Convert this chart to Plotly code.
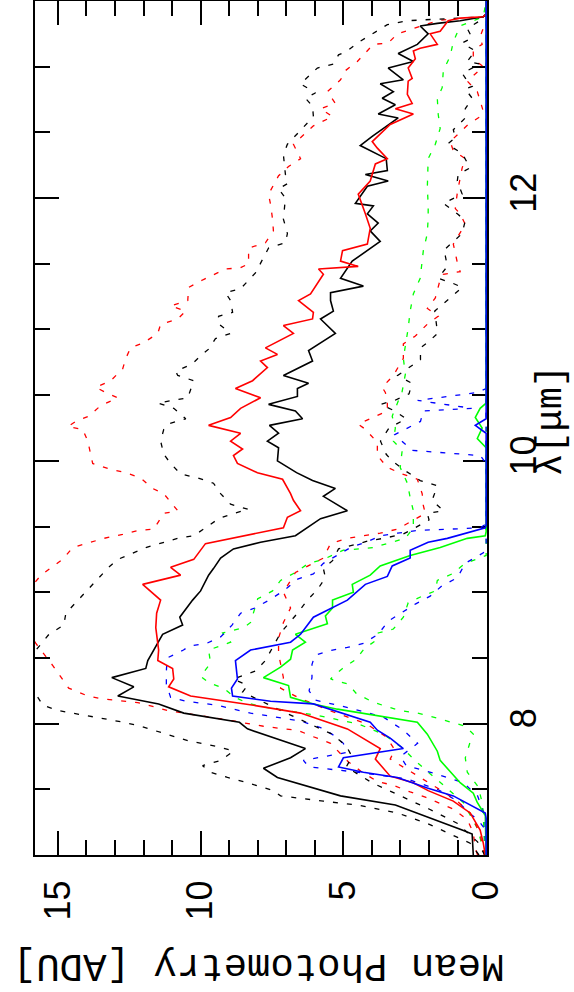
import plotly.graph_objects as go

# ---------------- data (wavelength in micron, mean photometry in ADU) -------------
# black solid
lam_k = [7.00,7.16,7.19,7.38,7.45,7.59,7.66,7.74,7.81,7.96,8.01,8.08,8.15,8.21,8.28,8.35,8.42,8.48,8.68,8.75,
         8.81,8.94,9.01,9.13,9.18,9.26,9.33,9.38,9.43,9.47,9.56,9.62,9.73,9.79,9.85,9.91,10.00,10.10,10.15,10.21,
         10.27,10.32,10.38,10.43,10.49,10.55,10.59,10.65,10.76,10.84,10.97,11.08,11.14,11.22,11.28,11.33,11.39,11.52,11.67,11.75,
         11.81,11.88,11.94,11.96,12.09,12.13,12.18,12.21,12.30,12.40,12.47,12.61,12.64,12.71,12.76,12.81,12.87,12.90,12.99,13.04,
         13.10,13.17,13.25,13.31,13.33,13.35,13.38,13.40,13.50]
val_k = [0.45,0.49,0.84,3.18,5.10,7.31,7.80,6.85,6.33,8.36,8.64,10.59,11.47,12.90,12.34,13.11,11.92,11.85,11.33,10.63,
         10.73,10.28,10.00,9.72,9.55,9.30,8.85,7.90,6.68,6.40,5.80,4.86,5.70,5.28,6.08,6.64,7.31,7.27,7.66,7.27,
         7.59,6.43,6.68,7.62,6.61,6.61,6.22,7.10,6.08,6.22,5.28,5.80,5.35,5.45,5.45,4.30,5.10,4.69,3.71,4.06,
         3.78,4.16,3.95,4.58,4.16,3.43,4.23,3.46,3.50,4.41,3.99,3.08,3.78,3.18,3.64,3.25,3.71,2.90,3.43,2.55,
         3.08,2.41,2.03,2.31,1.71,0.91,0.10,0.0,0.0]

# red solid
lam_r = [7.00,7.09,7.19,7.32,7.41,7.49,7.55,7.60,7.73,7.81,7.96,8.08,8.14,8.21,8.28,8.34,8.42,8.48,8.56,8.73,
         8.84,8.94,9.06,9.13,9.19,9.25,9.37,9.49,9.57,9.62,9.70,9.75,9.86,9.91,9.98,10.04,10.09,10.15,10.21,10.27,
         10.33,10.40,10.48,10.55,10.61,10.71,10.76,10.81,10.86,10.97,11.03,11.08,11.13,11.22,11.27,11.42,11.46,11.48,11.52,11.60,
         11.65,11.77,11.88,12.03,12.13,12.26,12.30,12.38,12.43,12.56,12.64,12.68,12.72,12.79,12.89,12.91,12.99,13.06,13.12,13.14,
         13.17,13.25,13.27,13.35,13.37,13.38,13.40,13.50]
val_r = [0.03,0.10,0.21,0.56,1.15,2.03,2.55,3.36,3.88,3.71,4.86,6.50,8.15,10.35,11.12,10.94,10.98,11.50,11.47,11.57,
         11.54,11.40,12.03,10.70,11.05,10.24,9.83,7.10,6.96,6.50,6.75,6.85,7.13,8.01,8.71,8.85,8.53,8.95,8.60,9.72,
         8.95,8.60,7.90,8.78,8.18,7.66,7.90,7.31,7.73,6.75,7.10,6.08,6.05,6.57,6.15,5.70,5.87,4.48,5.10,5.03,
         4.16,4.06,4.23,4.48,4.06,3.88,3.46,3.81,3.99,3.36,2.55,3.18,2.59,2.76,2.73,2.59,2.73,2.48,2.55,2.31,
         1.71,1.96,1.61,1.33,0.91,0.10,0.0,0.0]

# blue solid
lam_b = [7.00,7.28,7.32,7.45,7.51,7.59,7.63,7.67,7.74,7.81,7.89,7.95,8.01,8.15,8.17,8.21,8.27,8.34,8.48,8.56,
         8.62,8.68,8.81,8.94,9.06,9.12,9.20,9.26,9.32,9.38,9.41,9.49,9.51,10.21,10.27,10.32,13.50]
val_b = [0,0,0.03,1.15,2.06,3.11,4.30,5.17,5.00,2.90,3.36,3.81,4.06,6.05,7.55,8.88,8.92,8.71,8.78,8.25,
         6.85,6.50,6.05,4.86,4.23,3.46,3.29,2.66,2.66,2.03,1.36,0.03,0,0,0.38,0,0]

# green solid
lam_g = [7.00,7.30,7.40,7.47,7.55,7.72,7.79,7.92,8.01,8.06,8.11,8.15,8.20,8.29,8.35,8.43,8.49,8.56,8.62,8.68,
         8.76,8.82,8.88,8.94,9.00,9.06,9.13,9.20,9.28,9.34,9.41,9.43,9.46,10.10,10.17,10.25,10.33,10.40,10.44,13.50]
val_g = [0,0.03,0.31,0.45,0.91,1.61,1.71,2.06,2.41,3.81,5.21,6.05,6.85,6.92,7.80,7.20,6.85,6.78,6.33,6.68,
         5.56,5.63,5.38,5.38,4.65,4.69,4.06,3.71,2.66,1.61,0.66,0.03,0,0,0.31,0.14,0.38,0.21,0,0]

# black dashed, upper envelope
lam_ku = [7.00,7.09,7.16,7.24,7.32,7.38,7.41,7.45,7.49,7.55,7.59,7.63,7.68,7.72,7.79,7.82,7.87,7.95,7.98,8.01,
          8.04,8.08,8.10,8.14,8.25,8.40,8.55,8.68,8.75,8.84,8.94,9.03,9.19,9.25,9.34,9.41,9.43,9.49,9.56,9.60,
          9.63,9.67,9.75,9.83,9.87,9.90,9.98,10.05,10.15,10.24,10.28,10.32,10.40,10.44,10.48,10.61,10.65,10.68,10.74,10.80,
          10.85,10.93,10.97,11.05,11.10,11.13,11.22,11.28,11.31,11.43,11.62,11.66,11.73,11.84,12.00,12.07,12.11,12.18,12.33,12.41,
          12.49,12.62,12.70,12.76,12.80,12.87,12.99,13.02,13.09,13.12,13.18,13.25,13.32,13.35,13.37,13.38,13.40,13.50]
val_ku = [0.25,0.56,1.26,2.06,3.11,4.51,5.70,7.20,7.45,8.36,9.06,9.65,9.93,9.30,8.85,9.30,10.45,11.64,12.10,12.69,
          13.50,14.44,15.00,15.52,15.85,16.0,15.8,15.31,14.79,14.72,14.30,13.92,13.22,12.90,11.92,10.80,10.24,9.83,9.37,8.85,
          8.32,8.95,9.30,9.55,10.10,10.70,11.05,11.29,11.40,11.29,11.15,10.52,10.94,11.50,10.45,10.24,10.80,10.87,10.28,10.00,
          9.72,9.48,8.95,9.41,9.37,8.88,8.95,9.13,8.60,8.08,7.62,7.03,6.96,7.10,7.03,7.27,6.96,7.03,7.10,6.96,
          6.61,6.05,6.08,6.33,5.98,6.50,5.91,5.35,5.17,4.86,4.51,3.99,3.46,2.76,1.26,0.10,0.0,0.0]

# black dashed, lower envelope
lam_kl = [7.00,7.10,7.24,7.35,7.45,7.55,7.67,7.75,7.83,7.92,8.00,8.10,8.24,8.29,8.34,8.40,8.48,8.59,8.69,8.84,
          8.94,9.02,9.11,9.18,9.24,9.33,9.39,9.41,9.44,9.47,9.55,9.60,9.62,9.70,9.81,9.85,9.92,10.00,10.05,10.15,
          10.25,10.32,10.38,10.43,10.46,10.51,10.59,10.65,10.71,10.77,10.86,10.91,10.97,11.14,11.32,11.35,11.39,11.48,11.56,11.60,
          11.73,11.83,11.88,11.96,12.03,12.13,12.18,12.23,12.34,12.41,12.46,12.52,12.61,12.68,12.76,12.83,12.85,12.89,12.95,13.02,
          13.04,13.12,13.18,13.22,13.29,13.38,13.50]
val_kl = [0.05,0.30,1.00,2.00,3.00,4.00,4.90,4.70,4.90,5.40,6.20,7.20,8.53,8.36,8.85,8.08,7.73,7.45,7.20,6.61,
          6.26,5.91,5.63,5.70,5.38,5.17,4.13,3.60,2.94,2.66,2.00,2.06,1.50,1.89,1.71,2.31,2.80,3.30,3.50,3.70,
          3.40,2.80,3.20,3.70,3.20,2.70,2.60,3.10,2.70,2.30,2.30,2.00,1.70,1.80,0.84,1.15,1.68,1.36,1.43,1.50,
          0.84,0.73,1.01,1.50,0.84,1.01,0.98,0.56,0.84,1.36,1.08,1.15,0.73,0.73,0.49,0.73,0.49,0.66,0.84,0.21,
          0.66,0.38,0.84,0.49,0.66,0.0,0.0]

# red dashed, upper envelope
lam_ru = [7.00,7.05,7.17,7.27,7.35,7.40,7.44,7.48,7.53,7.56,7.63,7.71,7.77,7.85,7.90,7.95,7.96,7.98,8.02,8.06,
          8.10,8.16,8.19,8.21,8.27,8.44,8.61,8.75,8.90,9.05,9.13,9.25,9.34,9.41,9.44,9.47,9.48,9.60,9.62,9.75,
          9.79,9.87,9.91,9.94,9.98,10.05,10.15,10.24,10.26,10.30,10.34,10.42,10.48,10.52,10.56,10.61,10.70,10.78,10.86,10.90,
          10.97,11.04,11.08,11.14,11.18,11.22,11.32,11.38,11.46,11.47,11.50,11.62,11.66,11.75,11.84,11.95,12.03,12.17,12.24,12.30,
          12.41,12.55,12.62,12.68,12.72,12.81,12.90,12.97,13.04,13.17,13.18,13.25,13.29,13.35,13.36,13.38,13.40,13.50]
val_ru = [0.30,0.38,0.45,0.66,1.15,1.68,2.13,2.66,3.25,3.81,4.34,4.83,5.10,5.45,6.05,6.61,7.10,7.80,8.85,10.00,
          11.15,12.20,13.50,13.95,14.62,15.17,15.77,16.1,16.2,15.9,15.59,14.83,14.48,13.39,12.73,12.20,11.64,11.29,10.80,11.29,
          11.68,12.10,12.62,13.22,13.78,13.85,13.95,14.13,14.65,14.37,13.92,13.50,12.90,13.32,13.67,13.15,12.73,12.62,12.45,11.99,
          11.50,11.40,10.80,10.52,11.05,10.45,10.42,9.90,9.13,8.60,8.32,8.32,7.73,7.45,7.48,7.55,7.62,7.27,6.92,6.50,
          6.75,6.05,5.38,5.80,5.28,5.56,5.10,4.93,4.51,3.95,3.43,3.11,2.55,1.71,1.36,0.10,0.0,0.0]

# red dashed, lower envelope
lam_rl = [7.00,7.16,7.32,7.41,7.51,7.62,7.73,7.80,7.90,8.00,8.10,8.20,8.27,8.35,8.53,8.65,8.77,8.88,9.00,9.15,
          9.20,9.26,9.37,9.41,9.45,9.48,9.60,9.66,9.75,9.86,9.90,9.95,10.04,10.14,10.24,10.28,10.38,10.46,10.52,10.56,
          10.65,10.78,10.89,10.95,11.04,11.10,11.16,11.24,11.38,11.42,11.44,11.51,11.65,11.70,11.80,11.88,11.92,12.04,12.15,12.23,
          12.30,12.36,12.43,12.56,12.62,12.66,12.74,12.81,12.89,13.00,13.06,13.13,13.17,13.23,13.35,13.50]
val_rl = [0.07,0.21,0.56,1.01,1.71,2.55,3.36,3.20,3.50,4.20,5.50,6.60,7.20,7.10,7.27,7.27,7.10,6.85,7.10,6.68,
          6.22,5.70,5.45,4.86,3.71,3.11,2.13,2.20,2.24,2.41,2.94,3.46,3.81,3.81,4.23,4.48,3.46,3.46,3.53,3.64,
          3.25,2.90,2.90,2.48,2.06,1.68,2.06,1.78,1.61,1.50,0.91,1.01,1.15,1.01,0.73,0.91,1.08,1.01,0.91,0.84,
          0.73,1.15,1.26,0.63,0.21,0.10,0.21,0.31,0.66,0.10,0.45,0.45,0.14,0.21,0.0,0.0]

# blue dashed, upper envelope
lam_bu = [7.00,7.20,7.27,7.32,7.41,7.50,7.58,7.63,7.67,7.72,7.78,7.85,7.92,7.97,8.02,8.04,8.06,8.08,8.11,8.14,
          8.17,8.20,8.30,8.40,8.50,8.56,8.59,8.61,8.66,8.75,8.84,8.88,8.94,9.01,9.10,9.14,9.22,9.34,9.39,9.43,
          9.45,9.47,9.49,9.52,9.98,10.04,10.08,10.20,10.30,10.38,10.40,10.46,10.52,10.55,13.50]
val_bu = [0,0.05,0.30,0.60,1.00,1.70,2.80,4.50,6.20,6.40,4.90,5.00,5.40,5.80,6.50,7.10,7.66,8.25,8.85,9.40,
          10.50,11.05,11.20,11.20,11.17,10.60,10.40,9.80,9.30,8.90,8.60,8.10,7.60,7.10,6.60,6.05,5.70,4.75,4.10,3.70,
          3.10,2.40,0.20,0,0,0.20,2.60,3.20,2.30,2.20,0.50,2.40,0.30,0,0]

# blue dashed, lower envelope
lam_bl = [7.00,7.30,7.45,7.55,7.62,7.68,7.75,7.85,7.95,8.05,8.12,8.18,8.25,8.35,8.45,8.52,8.56,8.58,8.61,8.68,
          8.78,8.84,8.91,8.97,9.05,9.11,9.22,9.30,9.35,13.50]
val_bl = [0,0.05,0.30,0.80,1.80,2.80,3.00,2.40,2.90,3.60,4.80,6.00,6.20,6.10,6.10,6.00,5.38,4.86,4.30,3.78,
          3.43,3.01,2.48,1.96,1.54,1.01,0.73,0.10,0,0]

# green dashed, upper envelope
lam_gu = [7.00,7.20,7.40,7.59,7.72,7.81,7.92,8.00,8.02,8.05,8.07,8.09,8.11,8.13,8.16,8.20,8.27,8.31,8.36,8.46,
          8.56,8.62,8.69,8.73,8.77,8.95,9.01,9.09,9.15,9.22,9.25,9.32,9.34,9.41,9.49,9.62,9.72,9.83,9.95,10.08,
          10.15,10.25,10.34,10.53,10.66,10.78,11.01,11.14,11.27,11.39,11.60,11.73,11.85,11.95,12.08,12.21,12.30,12.41,12.53,12.64,
          12.76,12.84,12.97,13.08,13.19,13.31,13.38,13.50]
val_gu = [0.05,0.30,0.80,1.80,2.50,2.90,3.60,4.50,5.00,5.60,6.10,6.70,7.30,7.90,8.40,8.80,9.20,9.70,10.00,9.65,
          9.72,8.95,9.23,8.50,8.25,8.00,7.48,7.20,6.68,6.22,5.70,5.00,3.95,2.83,2.55,2.55,2.66,2.76,3.01,2.94,
          3.25,3.18,3.29,2.94,2.83,2.90,2.73,2.66,2.55,2.31,2.20,2.06,2.03,2.03,2.06,2.03,2.03,1.78,1.61,1.68,
          1.71,1.54,1.50,1.26,1.15,0.91,0.10,0.0]

# green dashed, lower envelope
lam_gl = [7.00,7.32,7.40,7.52,7.63,7.74,7.86,7.92,7.98,8.02,8.05,8.08,8.10,8.13,8.17,8.23,8.30,8.34,8.42,8.49,
          8.57,8.63,8.69,8.72,8.81,8.92,8.97,9.01,9.09,9.14,9.22,9.28,13.50]
val_gl = [0.05,0.10,0.14,0.28,0.66,0.73,0.56,0.45,0.73,1.33,1.85,2.41,3.01,3.50,4.02,4.55,4.83,5.45,5.03,4.55,
          4.27,3.88,3.78,3.25,2.90,2.73,2.24,1.78,1.71,1.19,0.73,0,0]

x_ticks = [0, 5, 10, 15]
y_ticks = [8, 10, 12]

BLACK, RED, BLUE, GREEN = "#000000", "#ff0000", "#0000ff", "#00ff00"

fig = go.Figure()

def add(lam, val, color, dashed):
    fig.add_trace(go.Scatter(
        x=val, y=lam, mode="lines", hoverinfo="skip", showlegend=False,
        line=dict(color=color, width=1.3 if dashed else 1.6,
                  dash="5px,9px" if dashed else "solid")))

# dashed envelopes first
add(lam_gu, val_gu, GREEN, True)
add(lam_gl, val_gl, GREEN, True)
add(lam_bu, val_bu, BLUE, True)
add(lam_bl, val_bl, BLUE, True)
add(lam_ru, val_ru, RED, True)
add(lam_rl, val_rl, RED, True)
add(lam_ku, val_ku, BLACK, True)
add(lam_kl, val_kl, BLACK, True)
# solid means
add(lam_k, val_k, BLACK, False)
add(lam_r, val_r, RED, False)
add(lam_g, val_g, GREEN, False)
add(lam_b, val_b, BLUE, False)

tickfont = dict(family="Liberation Sans", size=36, color="black")

fig.update_layout(
    width=574, height=992,
    margin=dict(l=35, r=87, t=1, b=137, autoexpand=False),
    paper_bgcolor="white", plot_bgcolor="white",
    showlegend=False,
    xaxis=dict(
        range=[15.8, -0.03], tickmode="array", tickvals=x_ticks,
        ticktext=[str(t) for t in x_ticks], automargin=False,
        ticks="inside", ticklen=24, tickwidth=2, tickcolor="black",
        showline=True, linewidth=2, linecolor="black", mirror="ticks",
        showgrid=False, zeroline=False, tickangle=-90, tickfont=tickfont,
        ticklabelstandoff=9, layer="below traces",
        minor=dict(dtick=1, tick0=0, ticks="inside", ticklen=15, tickwidth=2,
                   tickcolor="black", showgrid=False),
    ),
    yaxis=dict(
        range=[7.0, 13.5], side="right", tickmode="array", tickvals=y_ticks,
        ticktext=[str(t) for t in y_ticks], automargin=False,
        ticks="inside", ticklen=24, tickwidth=2, tickcolor="black",
        showline=True, linewidth=2, linecolor="black", mirror="ticks",
        showgrid=False, zeroline=False, tickangle=-90, tickfont=tickfont,
        ticklabelstandoff=4, layer="below traces",
        minor=dict(dtick=0.5, tick0=0, ticks="inside", ticklen=15, tickwidth=2,
                   tickcolor="black", showgrid=False),
    ),
    annotations=[
        dict(text="Mean Photometry [ADU]", xref="paper", yref="paper",
             x=0.496, y=-0.128, xanchor="center", yanchor="middle",
             textangle=180, showarrow=False,
             font=dict(family="Liberation Mono", size=39, color="black")),
        dict(text="λ[μm]", xref="paper", yref="paper",
             x=1.143, y=0.509, xanchor="center", yanchor="middle",
             textangle=-90, showarrow=False,
             font=dict(family="Liberation Mono", size=37, color="black")),
    ],
)

fig.write_html("out.html", config={"displayModeBar": False},
               post_script="document.body.style.margin='0px';")
